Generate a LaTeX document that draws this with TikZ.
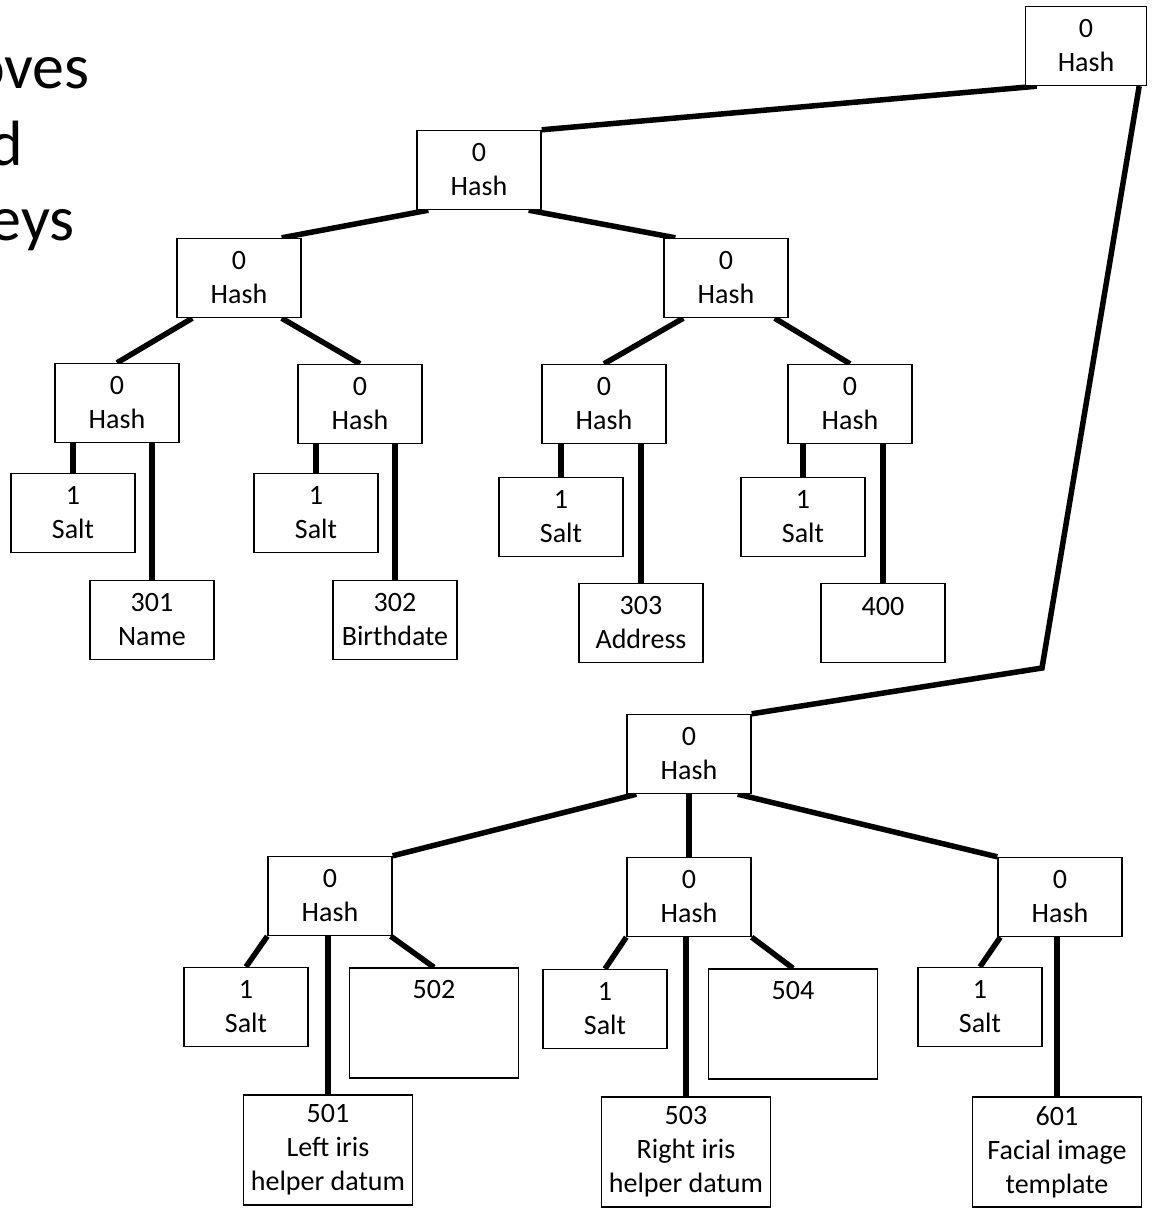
\documentclass[tikz,border=0pt]{standalone}
\usepackage{fontspec}
\setmainfont{Carlito}
\usetikzlibrary{backgrounds}
\begin{document}
\begin{tikzpicture}[x=1pt,y=-1pt,
  box/.style={draw, fill=white, line width=1.4pt, minimum width=124pt, minimum height=79pt,
    inner sep=0pt, align=center, font=\fontsize{28}{34}\selectfont},
  bigbox/.style={box, minimum width=169pt, minimum height=110pt},
  link/.style={line width=5.5pt},
  big/.style={inner sep=0pt, anchor=base east, font=\fontsize{64}{77}\selectfont}]
\useasboundingbox (0,0) rectangle (1153,1211);

% clipped heading fragments
\node[big] (t1) at (90,88) {oves};
\node[big] (t2) at (23,165) {d};
\node[big] (t3) at (75,240) {eys};

% upper tree
\node[box, minimum width=121pt] (root) at (1086,46) {0\\Hash};
\node[box] (h1) at (479,170) {0\\Hash};
\node[box] (h11) at (239,278) {0\\Hash};
\node[box] (h12) at (726,278) {0\\Hash};
\node[box] (h111) at (117,403) {0\\Hash};
\node[box] (h112) at (360,404) {0\\Hash};
\node[box] (h121) at (604,404) {0\\Hash};
\node[box] (h122) at (850,404) {0\\Hash};
\node[box] (s111) at (73,513) {1\\Salt};
\node[box] (s112) at (316,513) {1\\Salt};
\node[box] (s121) at (561,517) {1\\Salt};
\node[box] (s122) at (803,517) {1\\Salt};
\node[box] (d301) at (152,620) {301\\Name};
\node[box] (d302) at (395,620) {302\\Birthdate};
\node[box] (d303) at (641,623) {303\\Address};
\node[box] (d400) at (883,623) {400\\\mbox{}};

% lower tree
\node[box] (h2) at (689,754) {0\\Hash};
\node[box] (h21) at (330,896) {0\\Hash};
\node[box] (h22) at (689,897) {0\\Hash};
\node[box] (h23) at (1060,897) {0\\Hash};
\node[box] (s211) at (246,1007) {1\\Salt};
\node[bigbox] (d502) at (434,1023) {502\\\mbox{}\\\mbox{}};
\node[bigbox] (d501) at (328,1150) {501\\Left iris\\helper datum};
\node[box] (s221) at (605,1009) {1\\Salt};
\node[bigbox] (d504) at (793,1024) {504\\\mbox{}\\\mbox{}};
\node[bigbox] (d503) at (686,1152) {503\\Right iris\\helper datum};
\node[box] (s231) at (980,1007) {1\\Salt};
\node[bigbox] (d601) at (1057,1152) {601\\Facial image\\template};

\coordinate (bend) at (1042,668);

\begin{scope}[on background layer]
\fill[white] (0,0) rectangle (1153,1211);
% root links
\draw[link] ([xshift=12pt]root.south west) -- (h1.north east);
\draw[link] ([xshift=-8pt]root.south east) -- (bend) -- (h2.north east);
% upper links
\draw[link] ([xshift=12pt]h1.south west) -- ([xshift=-20pt]h11.north east);
\draw[link] ([xshift=-13pt]h1.south east) -- ([xshift=12pt]h12.north west);
\draw[link] ([xshift=16pt]h11.south west) -- (h111.north);
\draw[link] ([xshift=-20pt]h11.south east) -- (h112.north);
\draw[link] ([xshift=20pt]h12.south west) -- (h121.north);
\draw[link] ([xshift=-14pt]h12.south east) -- (h122.north);
\draw[link] (h111.south -| s111.north) -- (s111.north);
\draw[link] (h111.south -| d301.north) -- (d301.north);
\draw[link] (h112.south -| s112.north) -- (s112.north);
\draw[link] (h112.south -| d302.north) -- (d302.north);
\draw[link] (h121.south -| s121.north) -- (s121.north);
\draw[link] (h121.south -| d303.north) -- (d303.north);
\draw[link] (h122.south -| s122.north) -- (s122.north);
\draw[link] (h122.south -| d400.north) -- (d400.north);
% lower links
\draw[link] ([xshift=10pt]h2.south west) -- (h21.north east);
\draw[link] (h2.south) -- (h22.north);
\draw[link] ([xshift=-14pt]h2.south east) -- (h23.north west);
\draw[link] (h21.south west) -- (s211.north);
\draw[link] (h21.south -| d501.north) -- (d501.north);
\draw[link] ([xshift=-2pt]h21.south east) -- (d502.north);
\draw[link] (h22.south west) -- (s221.north);
\draw[link] (h22.south -| d503.north) -- (d503.north);
\draw[link] (h22.south east) -- (d504.north);
\draw[link] ([xshift=3pt]h23.south west) -- (s231.north);
\draw[link] (h23.south -| d601.north) -- (d601.north);
\end{scope}
\end{tikzpicture}
\end{document}
